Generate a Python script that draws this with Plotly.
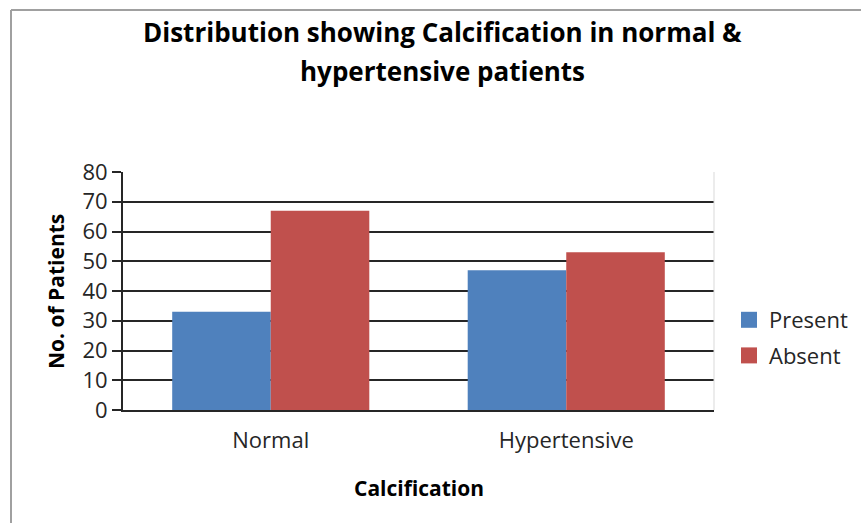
import plotly.graph_objects as go

categories = ["Normal", "Hypertensive"]
present = [33, 47]
absent = [67, 53]
series_names = ["Present", "Absent"]
series_colors = ["#4f81bd", "#c0504d"]
y_ticks = [0, 10, 20, 30, 40, 50, 60, 70, 80]
title_lines = ["Distribution showing Calcification in normal &", "hypertensive patients"]

FONT = "Open Sans"
W, H = 861, 523
L, R, T, B = 123, 714, 172, 410
PW, PH = R - L, B - T


def px(x):
    return (x - L) / PW


def py(y):
    return (B - y) / PH


fig = go.Figure()
for name, vals, col in zip(series_names, [present, absent], series_colors):
    fig.add_trace(go.Bar(name=name, x=categories, y=vals, showlegend=False,
                         marker=dict(color=col, line=dict(width=0))))
# legend entries with larger square swatches
for i, (name, col) in enumerate(zip(series_names, series_colors)):
    fig.add_trace(go.Scatter(name=name, x=[None], y=[None], mode="markers", legendgroup=name,
                             marker=dict(symbol="square", size=18, color=col)))

annotations = [
    dict(text="<b>%s</b>" % title_lines[0], x=px(442), y=py(32), xref="paper", yref="paper",
         xanchor="center", yanchor="middle", showarrow=False,
         font=dict(size=26, color="#000000", family=FONT)),
    dict(text="<b>%s</b>" % title_lines[1], x=px(442), y=py(71), xref="paper", yref="paper",
         xanchor="center", yanchor="middle", showarrow=False,
         font=dict(size=26, color="#000000", family=FONT)),
    dict(text="<b>No. of Patients</b>", x=px(56), y=py(292), xref="paper", yref="paper",
         xanchor="center", yanchor="middle", showarrow=False, textangle=-90,
         font=dict(size=21, color="#000000", family=FONT)),
    dict(text="<b>Calcification</b>", x=px(419), y=py(488), xref="paper", yref="paper",
         xanchor="center", yanchor="middle", showarrow=False,
         font=dict(size=21, color="#000000", family=FONT)),
]

fig.update_layout(
    width=W, height=H,
    margin=dict(l=L, r=W - R, t=T, b=H - B, autoexpand=False),
    paper_bgcolor="white", plot_bgcolor="white",
    barmode="group", bargap=0.333, bargroupgap=0,
    font=dict(family=FONT, color="#262626"),
    showlegend=True,
    legend=dict(x=px(729), y=py(338), xanchor="left", yanchor="middle",
                font=dict(size=22, color="#262626", family=FONT),
                traceorder="grouped", tracegroupgap=4, bgcolor="rgba(0,0,0,0)",
                itemwidth=30, itemsizing="trace"),
    xaxis=dict(showgrid=False, showline=True, linecolor="#262626", linewidth=2,
               tickfont=dict(size=22, color="#262626"), ticks="", ticklabelstandoff=10),
    yaxis=dict(range=[0, 80], tickvals=y_ticks, showgrid=True, gridcolor="#262626", gridwidth=2,
               showline=True, linecolor="#262626", linewidth=2, ticks="outside", ticklen=9,
               tickwidth=2, tickcolor="#262626", tickfont=dict(size=22, color="#262626"),
               zeroline=False, ticklabelstandoff=0),
    annotations=annotations,
    shapes=[
        dict(type="line", xref="paper", yref="paper", x0=1, x1=1, y0=0, y1=1,
             line=dict(color="#d9d9d9", width=1)),
        dict(type="line", xref="paper", yref="paper", x0=px(11), x1=px(900), y0=py(10), y1=py(10),
             line=dict(color="#a0a0a0", width=2)),
        dict(type="line", xref="paper", yref="paper", x0=px(11), x1=px(11), y0=py(10), y1=py(600),
             line=dict(color="#a0a0a0", width=2)),
    ],
)
fig.write_html("out.html", config={"displayModeBar": False},
               post_script="document.body.style.margin='0px';")
